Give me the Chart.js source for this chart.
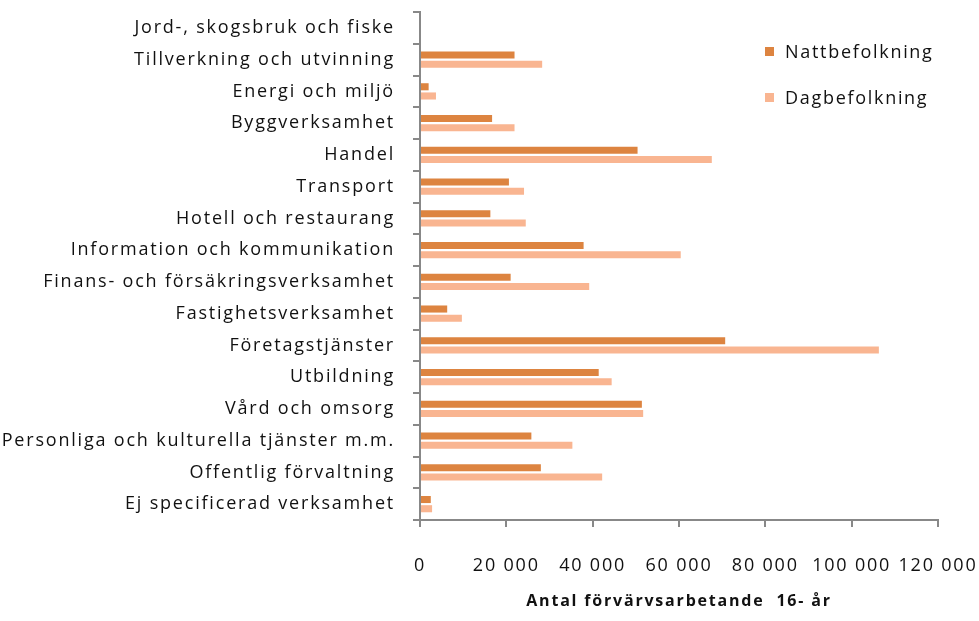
<!DOCTYPE html>
<html>
<head>
<meta charset="utf-8">
<script src="https://cdn.jsdelivr.net/npm/chart.js@4/dist/chart.umd.min.js"></script>
<style>
    body { margin: 0; background: #fff; }
    #wrap { position: relative; width: 979px; height: 621px; }
    .legend-item { position: absolute; left: 765px; font-family: 'Open Sans', sans-serif; font-size: 18px; color: #111; line-height: 20px; letter-spacing: 1.7px; }
    .legend-item span { display: inline-block; width: 9px; height: 9px; margin-right: 11px; vertical-align: 2px; }
</style>
</head>
<body>
<div id="wrap">
    <canvas id="barChart" width="979" height="621"></canvas>
    <div class="legend-item" style="top: 41px;"><span style="background:#DD8440"></span>Nattbefolkning</div>
    <div class="legend-item" style="top: 87px;"><span style="background:#F9B591"></span>Dagbefolkning</div>
</div>
<script>
// DATA
const categories = [
    'Jord-, skogsbruk och fiske',
    'Tillverkning och utvinning',
    'Energi och miljö',
    'Byggverksamhet',
    'Handel',
    'Transport',
    'Hotell och restaurang',
    'Information och kommunikation',
    'Finans- och försäkringsverksamhet',
    'Fastighetsverksamhet',
    'Företagstjänster',
    'Utbildning',
    'Vård och omsorg',
    'Personliga och kulturella tjänster m.m.',
    'Offentlig förvaltning',
    'Ej specificerad verksamhet'
];
const nattbefolkning = [0, 21900, 2000, 16700, 50400, 20600, 16300, 37900, 21000, 6300, 70700, 41400, 51400, 25800, 28000, 2500];
const dagbefolkning = [0, 28300, 3700, 21900, 67600, 24100, 24500, 60400, 39200, 9700, 106300, 44400, 51700, 35300, 42200, 2800];
const xTicks = [0, 20000, 40000, 60000, 80000, 100000, 120000];

const axisColor = '#888888';
const font = { family: "'Open Sans', sans-serif", size: 18 };

// wider letter spacing, close to the original's look
const spacingPlugin = {
    id: 'spacing',
    beforeUpdate(chart) { chart.ctx.letterSpacing = '1.8px'; },
    beforeDraw(chart) { chart.ctx.letterSpacing = '1.8px'; }
};

const barData = {
    labels: categories,
    datasets: [{
        label: 'Nattbefolkning',
        backgroundColor: '#DD8440',
        data: nattbefolkning
    }, {
        label: 'Dagbefolkning',
        backgroundColor: '#F9B591',
        data: dagbefolkning
    }]
};

const barConfig = {
    type: 'bar',
    data: barData,
    plugins: [spacingPlugin],
    options: {
        indexAxis: 'y',
        responsive: false,
        animation: false,
        categoryPercentage: 0.58,
        barPercentage: 0.77,
        layout: {
            padding: { top: 12, right: 0, left: 0, bottom: 0 }
        },
        scales: {
            x: {
                min: 0,
                max: 120000,
                afterBuildTicks: function (axis) {
                    axis.ticks = xTicks.map(v => ({ value: v }));
                },
                afterFit: function (axis) {
                    axis.height = 101;
                    axis.paddingLeft = 0;
                    axis.paddingRight = 41;
                },
                border: { color: axisColor, width: 2 },
                grid: { drawOnChartArea: false, drawTicks: true, tickLength: 7, color: axisColor, lineWidth: 2 },
                ticks: {
                    padding: 28,
                    color: '#111',
                    font: font,
                    maxRotation: 0,
                    callback: function (v) {
                        return String(v).replace(/\B(?=(\d{3})+(?!\d))/g, ' ');
                    }
                },
                title: {
                    display: true,
                    text: 'Antal förvärvsarbetande  16- år',
                    color: '#111',
                    font: { family: "'Open Sans', sans-serif", size: 16, weight: 'bold' },
                    padding: { top: 0, bottom: 10 }
                }
            },
            y: {
                afterFit: function (axis) {
                    axis.width = 420;
                    axis.paddingTop = 0;
                    axis.paddingBottom = 0;
                },
                border: { color: axisColor, width: 2 },
                grid: { drawOnChartArea: false, drawTicks: true, tickLength: 7, color: axisColor, lineWidth: 2 },
                ticks: {
                    padding: 18,
                    color: '#111',
                    font: font,
                    autoSkip: false
                }
            }
        },
        plugins: {
            legend: { display: false },
            tooltip: { enabled: false }
        }
    }
};

let barChart = new Chart(
    document.getElementById('barChart'),
    barConfig
);
</script>
</body>
</html>
